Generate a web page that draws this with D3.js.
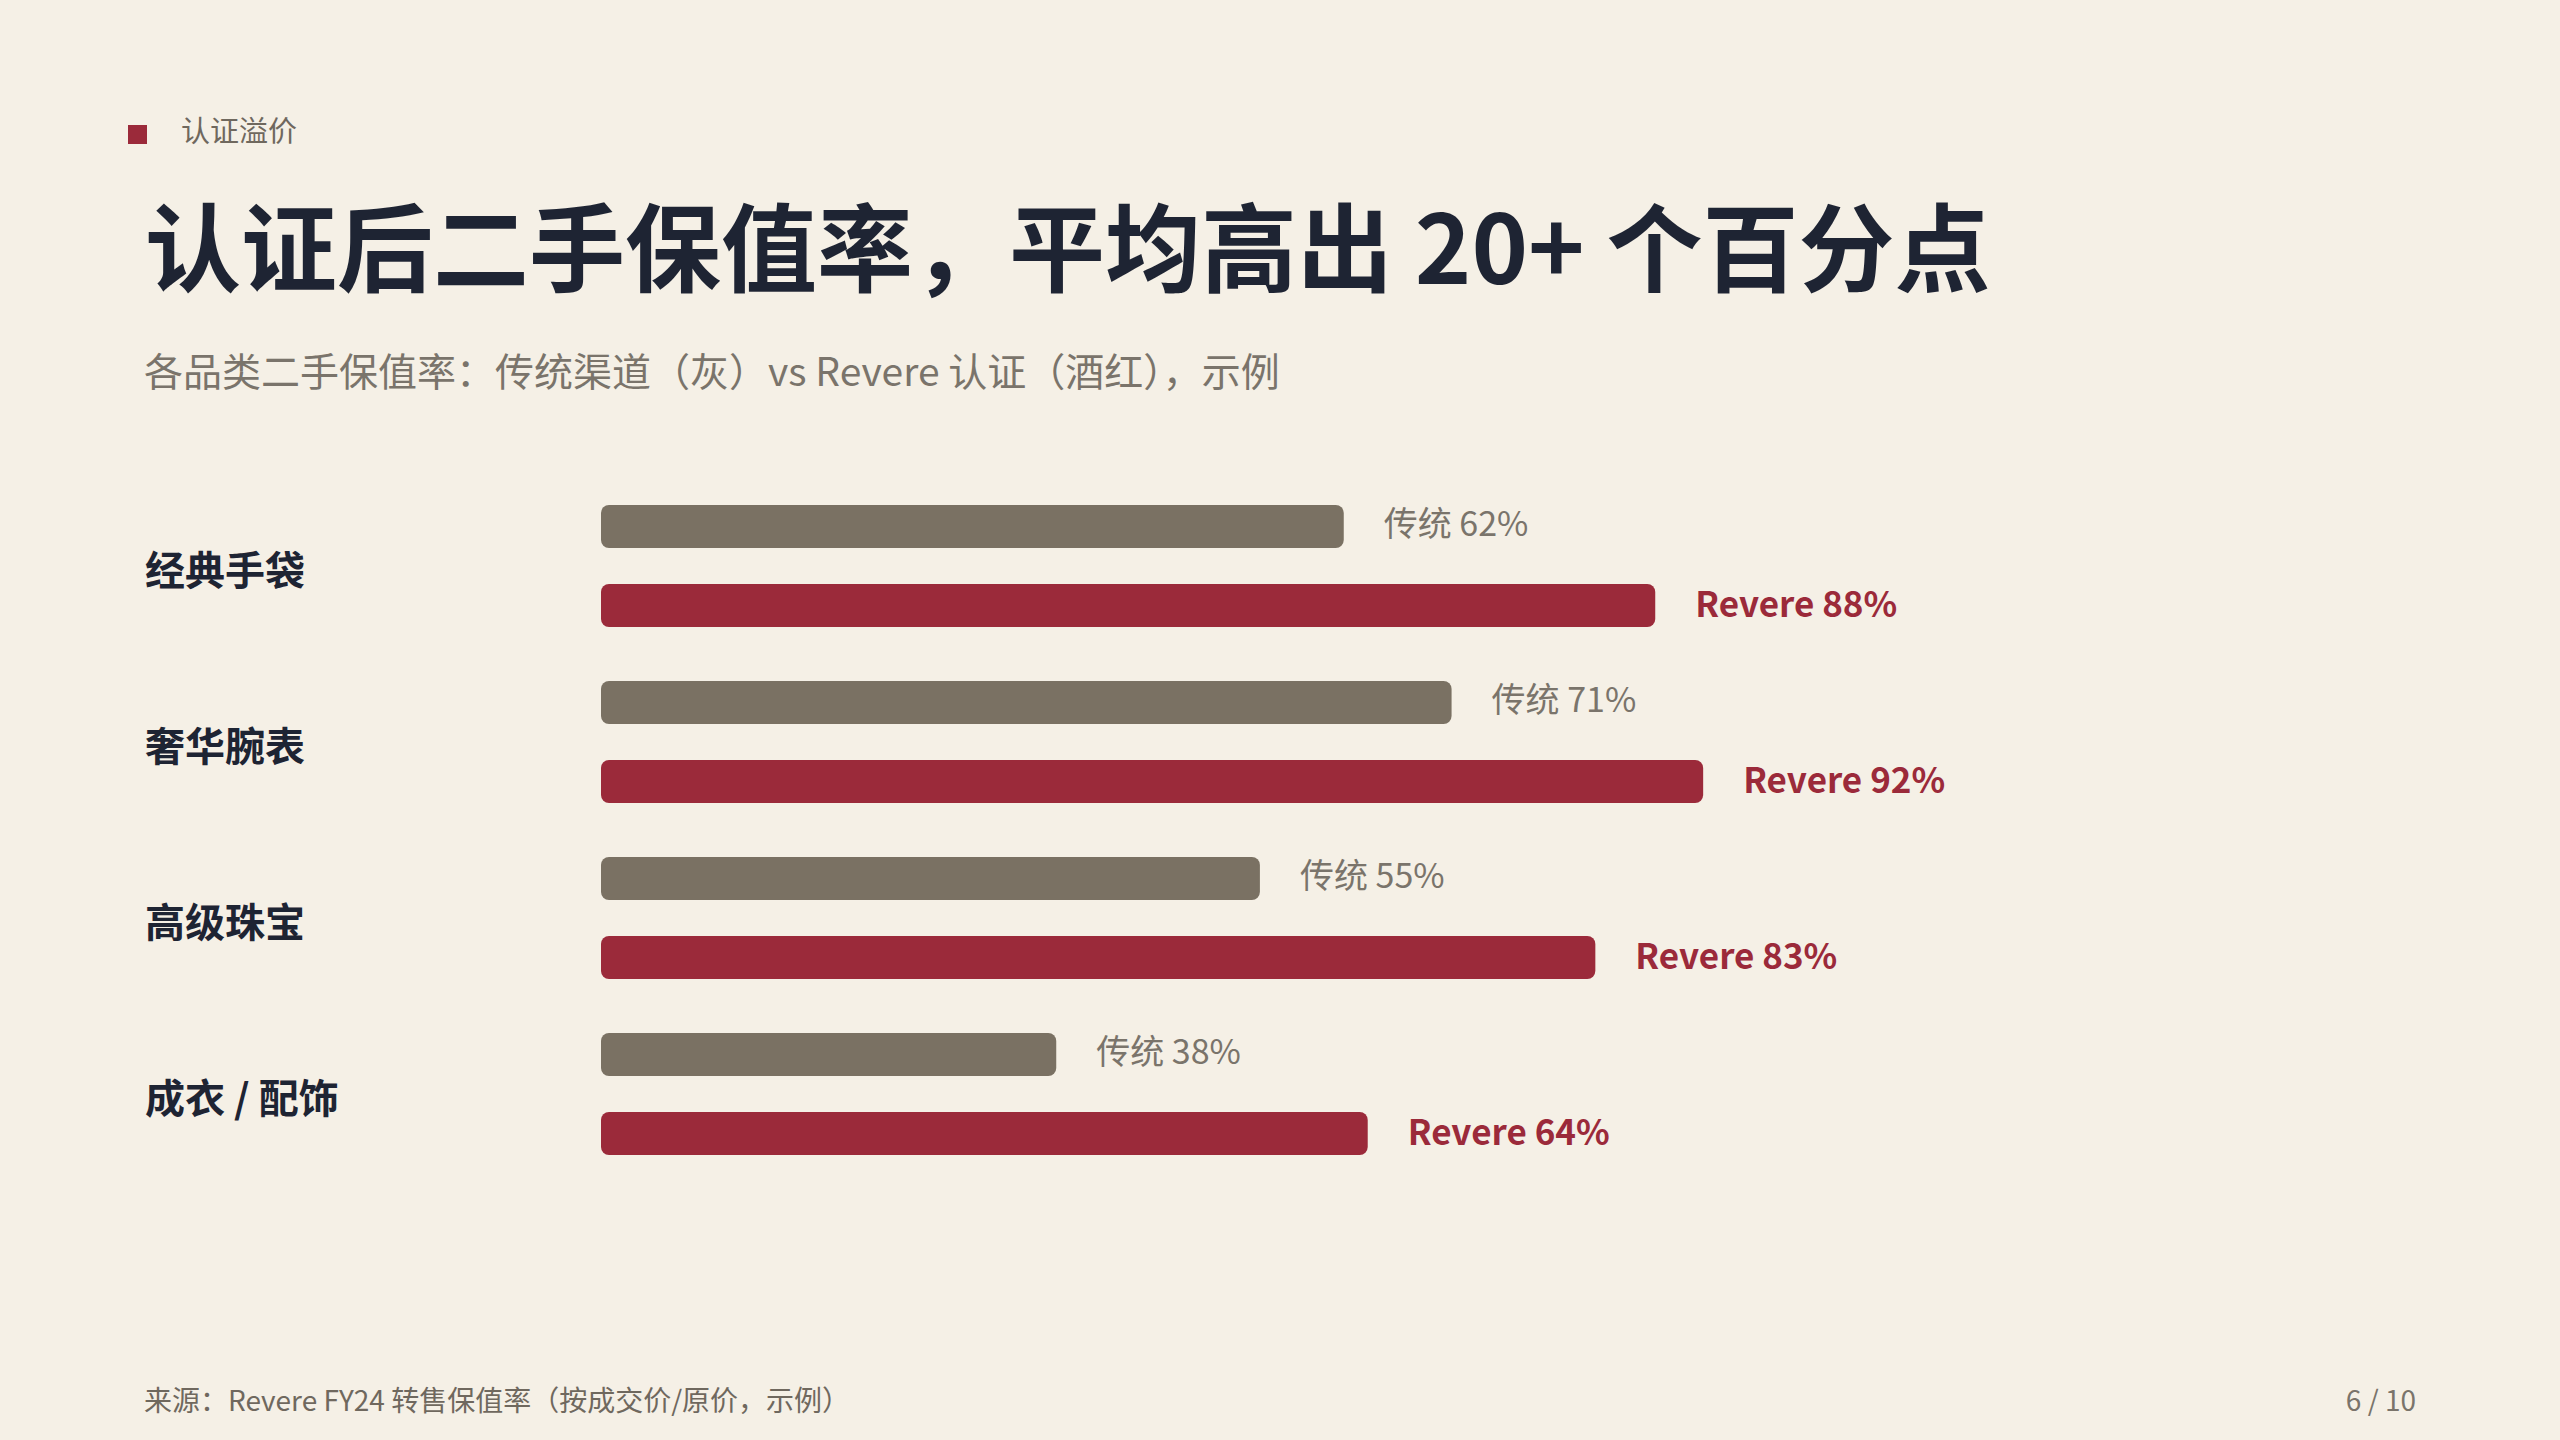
<!DOCTYPE html>
<html lang="zh">
<head>
<meta charset="utf-8">
<script src="https://cdnjs.cloudflare.com/ajax/libs/d3/7.8.5/d3.min.js"></script>
<title>认证溢价</title>
<style>
  body{margin:0;background:#f5f0e6;}
  svg{display:block;font-family:"Noto Sans CJK SC","Noto Sans",sans-serif;}
</style>
</head>
<body>
<script>
// data
var categories=["经典手袋","奢华腕表","高级珠宝","成衣 / 配饰"];
var traditional=[62,71,55,38];
var revere=[88,92,83,64];

var W=2560,H=1440;
var svg=d3.select("body").append("svg").attr("width",W).attr("height",H);
svg.append("rect").attr("width",W).attr("height",H).attr("fill","#f5f0e6");

// header
svg.append("rect").attr("x",128).attr("y",125).attr("width",19).attr("height",19).attr("fill","#9b2a3a");
svg.append("text").attr("x",181).attr("y",142).attr("font-size",29).attr("fill","#6f685e").text("认证溢价");
svg.append("text").attr("x",145).attr("y",284).attr("font-size",96).attr("font-weight",700)
  .attr("fill","#1e2433").text("认证后二手保值率，平均高出 20+ 个百分点");
svg.append("text").attr("x",144).attr("y",386).attr("font-size",39).attr("fill","#7a746b")
  .text("各品类二手保值率：传统渠道（灰）vs Revere 认证（酒红），示例");

// scales
var x=d3.scaleLinear().domain([0,100]).range([601,1799]);
var y=d3.scaleBand().domain(categories).range([490,1194]);
var bh=43;

var g=svg.selectAll("g.cat").data(categories).enter().append("g").attr("class","cat")
  .attr("transform",function(d){return "translate(0,"+y(d)+")";});

g.append("text").attr("x",145).attr("y",y.bandwidth()/2-4).attr("dominant-baseline","middle")
  .attr("font-size",40).attr("font-weight",700).attr("fill","#1e2433").text(function(d){return d;});

g.append("rect").attr("x",x(0)).attr("y",15).attr("height",bh).attr("rx",8)
  .attr("width",function(d,i){return x(traditional[i])-x(0);}).attr("fill","#7a7163");
g.append("text").attr("x",function(d,i){return x(traditional[i])+40;}).attr("y",37)
  .attr("dominant-baseline","middle").attr("font-size",34).attr("fill","#7a746b")
  .text(function(d,i){return "传统 "+traditional[i]+"%";});

g.append("rect").attr("x",x(0)).attr("y",94).attr("height",bh).attr("rx",8)
  .attr("width",function(d,i){return x(revere[i])-x(0);}).attr("fill","#9b2a3a");
g.append("text").attr("x",function(d,i){return x(revere[i])+40;}).attr("y",117)
  .attr("dominant-baseline","middle").attr("font-size",35).attr("font-weight",700).attr("fill","#9b2a3a")
  .text(function(d,i){return "Revere "+revere[i]+"%";});

// footer
svg.append("text").attr("x",144).attr("y",1411).attr("font-size",28).attr("fill","#6f685e")
  .text("来源：Revere FY24 转售保值率（按成交价/原价，示例）");
svg.append("text").attr("x",2416).attr("y",1411).attr("text-anchor","end").attr("font-size",28).attr("fill","#7a746b")
  .text("6 / 10");
</script>
</body>
</html>
